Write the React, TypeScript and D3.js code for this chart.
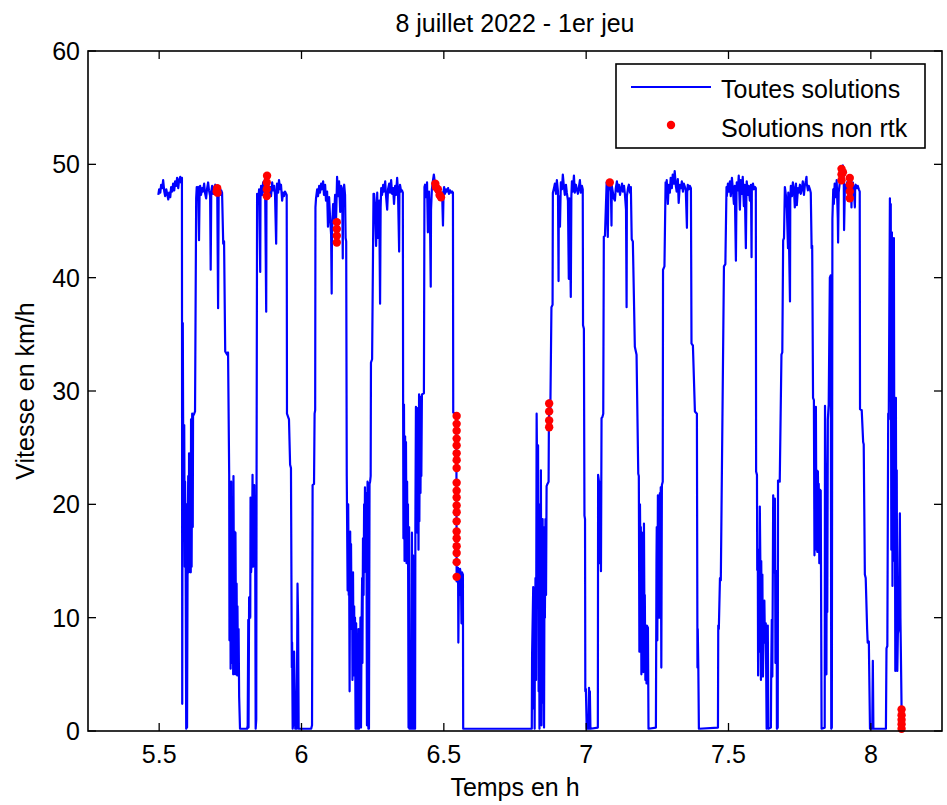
import { useMemo } from "react";
import * as d3 from "d3";

type Pt = [number, number];

const W = 947;
const H = 805;
const margin = { top: 51, right: 5, bottom: 74, left: 88 };
const FONT = "'Liberation Sans', Arial, Helvetica, sans-serif";

const titleText = "8 juillet 2022 - 1er jeu";
const xLabel = "Temps en h";
const yLabel = "Vitesse en km/h";
const legendLabels = ["Toutes solutions", "Solutions non rtk"];
const xTicks = [5.5, 6, 6.5, 7, 7.5, 8];
const yTicks = [0, 10, 20, 30, 40, 50, 60];

// speed (km/h) vs time (h), one array per lap
const lap1: Pt[] = [
  [5.497, 47.3], [5.5, 47.8], [5.504, 47.5], [5.507, 48.2], [5.511, 47.9], [5.514, 48.6], [5.518, 47.6],
  [5.521, 47.2], [5.525, 47.8], [5.528, 47.4], [5.532, 46.9], [5.535, 47.5], [5.539, 47.1], [5.542, 48.0],
  [5.546, 47.6], [5.549, 48.3], [5.553, 47.7], [5.556, 48.5], [5.56, 48.1], [5.563, 48.8], [5.567, 47.9],
  [5.57, 48.6], [5.574, 48.9], [5.577, 48.4], [5.58, 48.8], [5.581, 2.4], [5.583, 36], [5.584, 28.5],
  [5.586, 18], [5.588, 27], [5.59, 14.5], [5.591, 22], [5.593, 15], [5.595, 0.2], [5.597, 20], [5.598, 0.3],
  [5.6, 16], [5.602, 22.5], [5.604, 14], [5.605, 24.5], [5.607, 15.5], [5.609, 20], [5.611, 14], [5.612, 27.5],
  [5.614, 14.5], [5.616, 28], [5.618, 18], [5.619, 27.8], [5.623, 28], [5.626, 28.2], [5.63, 47],
];

const lap2: Pt[] = [
  [5.632, 48], [5.633, 47.8], [5.637, 48], [5.64, 43.3], [5.642, 47.5], [5.644, 48.1], [5.647, 47.3],
  [5.651, 47.9], [5.654, 47.6], [5.658, 48.3], [5.661, 47.5], [5.665, 47.0], [5.668, 47.8], [5.672, 48.4],
  [5.675, 47.7], [5.679, 47.2], [5.681, 40.7], [5.683, 47.6], [5.686, 48.1], [5.69, 47.4], [5.693, 47.9],
  [5.697, 48.2], [5.7, 47.6], [5.704, 47.8], [5.707, 37.3], [5.709, 47.5], [5.711, 47.8], [5.714, 47.3],
  [5.718, 47.7], [5.721, 47.5], [5.725, 43], [5.728, 43.2], [5.732, 33.5], [5.739, 33.2], [5.742, 33.4],
  [5.746, 22.5], [5.747, 8], [5.749, 21], [5.751, 5.5], [5.753, 22], [5.754, 6], [5.756, 18], [5.758, 17],
  [5.76, 5], [5.761, 22.5], [5.763, 10], [5.765, 17.6], [5.767, 5], [5.768, 17.5], [5.77, 8], [5.772, 13],
  [5.774, 4.9], [5.775, 11], [5.777, 5], [5.779, 9], [5.781, 3], [5.784, 0.2], [5.798, 0.2], [5.809, 0.2],
  [5.811, 0.5], [5.813, 9.8], [5.814, 0.3], [5.816, 11.8], [5.82, 10], [5.821, 20.6], [5.823, 14],
  [5.826, 16], [5.828, 22.6], [5.83, 14.5], [5.834, 21.7], [5.835, 18], [5.837, 19.5], [5.839, 0.2],
  [5.841, 1], [5.842, 20], [5.844, 47.4],
];

const lap3: Pt[] = [
  [5.848, 46.5], [5.851, 47.8], [5.855, 40.5], [5.856, 47], [5.858, 48.1], [5.862, 47.3], [5.865, 48.4],
  [5.869, 47.6], [5.872, 48.8], [5.876, 37], [5.877, 47.5], [5.879, 48.9], [5.883, 48.2], [5.886, 47.4],
  [5.89, 48], [5.893, 47.2], [5.897, 48.4], [5.9, 47.7], [5.904, 48.1], [5.907, 47.3], [5.911, 43],
  [5.913, 47.6], [5.914, 48.3], [5.918, 47.5], [5.921, 48.6], [5.925, 47.8], [5.928, 48.2], [5.932, 46.8],
  [5.935, 47.5], [5.939, 47.2], [5.942, 47.6], [5.946, 47.4], [5.948, 47.3], [5.949, 28], [5.956, 27.5],
  [5.96, 23.5], [5.963, 23.2], [5.966, 5.6], [5.967, 7.8], [5.969, 0.2], [5.97, 0.4], [5.974, 7],
  [5.978, 0.2], [5.981, 1], [5.983, 0.2], [5.985, 8], [5.986, 13], [5.988, 10], [5.99, 0.2], [6.013, 0.2],
  [6.034, 0.2], [6.037, 0.5], [6.039, 21.7], [6.044, 21.8], [6.046, 28], [6.048, 28.3], [6.049, 46.2],
];

const lap4: Pt[] = [
  [6.051, 47], [6.055, 47.8], [6.058, 47.2], [6.062, 48.1], [6.065, 47.5], [6.069, 48.3], [6.072, 47.8],
  [6.076, 48.5], [6.079, 47.3], [6.083, 48.2], [6.086, 46.8], [6.09, 47.6], [6.093, 44.5], [6.097, 47.1],
  [6.1, 45.5], [6.104, 43.8], [6.106, 38.6], [6.107, 44], [6.111, 46.5], [6.114, 45.2], [6.118, 47.3],
  [6.121, 44.6], [6.125, 48.9], [6.128, 47.2], [6.132, 48.5], [6.136, 45.8], [6.139, 48.1], [6.143, 47.5],
  [6.145, 41.7], [6.146, 47.6], [6.15, 48.2], [6.153, 47.3], [6.155, 43.5], [6.157, 43.2], [6.159, 22.5],
  [6.162, 12.4], [6.164, 20], [6.166, 12], [6.167, 17.2], [6.169, 3.5], [6.171, 17.6], [6.172, 12],
  [6.174, 16.5], [6.176, 9], [6.178, 12.5], [6.179, 4.5], [6.181, 14], [6.183, 4.9], [6.185, 11],
  [6.186, 7.5], [6.188, 10], [6.19, 0.2], [6.192, 9.5], [6.193, 0.2], [6.195, 7], [6.197, 0.2], [6.199, 5.5],
  [6.2, 9], [6.202, 0.2], [6.204, 8.5], [6.206, 1], [6.207, 10], [6.209, 0.3], [6.211, 9], [6.213, 13.5],
  [6.214, 6], [6.216, 17], [6.218, 12], [6.22, 20], [6.221, 14], [6.223, 21.5], [6.225, 15], [6.227, 21],
  [6.228, 19.5], [6.23, 0.5], [6.232, 22], [6.234, 21.6], [6.235, 0.2], [6.237, 0.2], [6.239, 21.8],
  [6.241, 22], [6.243, 22.5], [6.244, 32.5], [6.248, 32.8], [6.253, 47.4],
];

const lap5: Pt[] = [
  [6.255, 47.4], [6.258, 46.5], [6.262, 42.8], [6.266, 47.5], [6.269, 43.5], [6.273, 46.8], [6.276, 37.7],
  [6.278, 46.2], [6.28, 47.9], [6.283, 47.3], [6.287, 48.2], [6.29, 47.6], [6.294, 48.5], [6.297, 47.2],
  [6.301, 46], [6.304, 47.8], [6.308, 48.3], [6.311, 47.5], [6.315, 48.6], [6.318, 47.4], [6.322, 47.9],
  [6.325, 46.5], [6.329, 48.1], [6.332, 47.3], [6.336, 48.8], [6.339, 47.6], [6.343, 42.3], [6.344, 47.4],
  [6.346, 48.2], [6.35, 47.6], [6.353, 47.7], [6.356, 47.5], [6.357, 29.2], [6.358, 17], [6.36, 28.8],
  [6.362, 15], [6.364, 26], [6.365, 17.6], [6.367, 25.5], [6.369, 14.8], [6.371, 22], [6.372, 15.5],
  [6.374, 20], [6.376, 0.3], [6.378, 18], [6.379, 0.2], [6.385, 0.2], [6.388, 17.5], [6.39, 0.2],
  [6.392, 15.5], [6.393, 0.2], [6.399, 0.2], [6.4, 18], [6.402, 28.6], [6.404, 19], [6.406, 28.5],
  [6.407, 17.5], [6.409, 27], [6.411, 16], [6.413, 29.7], [6.414, 18.5], [6.416, 29.2], [6.418, 21],
  [6.42, 29.5], [6.421, 22.5], [6.423, 29.7], [6.43, 29.8], [6.432, 48],
];

const lap6: Pt[] = [
  [6.434, 48.2], [6.437, 47.1], [6.441, 48.4], [6.444, 44], [6.448, 47.6], [6.452, 43.8], [6.454, 39.2],
  [6.455, 46], [6.458, 47.8], [6.462, 48.6], [6.465, 49.1], [6.469, 48.3], [6.472, 47.6], [6.476, 48.4],
  [6.479, 47.2], [6.483, 47.9], [6.487, 47.3], [6.49, 46.9], [6.494, 47.5], [6.497, 44.6], [6.499, 47.6],
  [6.501, 48], [6.504, 47.4], [6.508, 47.8], [6.511, 47.6], [6.515, 47.9], [6.518, 47.4], [6.522, 47.7],
  [6.525, 47.5], [6.529, 47.6], [6.532, 47.5], [6.533, 28.1], [6.539, 28], [6.544, 27.8], [6.545, 13.2],
  [6.55, 14.4], [6.551, 7.8], [6.553, 13.5], [6.555, 12], [6.557, 14.3], [6.56, 13.8], [6.562, 9.5],
  [6.564, 14], [6.567, 13.8], [6.568, 0.2], [6.627, 0.2], [6.697, 0.2], [6.768, 0.2], [6.809, 0.2],
];

const lap7: Pt[] = [
  [6.81, 6.7], [6.814, 12.7], [6.815, 2], [6.817, 12], [6.819, 0.2], [6.82, 9], [6.822, 13.5], [6.824, 4.5],
  [6.826, 28], [6.827, 25], [6.829, 11], [6.831, 25.2], [6.833, 3.5], [6.834, 20], [6.836, 0.2],
  [6.838, 18.5], [6.84, 7], [6.841, 23], [6.843, 0.5], [6.845, 12], [6.847, 18.7], [6.848, 2.5], [6.85, 18],
  [6.852, 0.3], [6.854, 17.5], [6.855, 10], [6.857, 18.7], [6.859, 12], [6.861, 21.6], [6.864, 21.8],
  [6.868, 22], [6.869, 26.8], [6.871, 29.2], [6.874, 28], [6.878, 37.4], [6.882, 37.6], [6.883, 47.5],
  [6.887, 47.9], [6.89, 48.3], [6.894, 47.4], [6.897, 48.6], [6.901, 47.6], [6.903, 39.7], [6.904, 47.2],
  [6.908, 44.5], [6.911, 48.4], [6.915, 47.8], [6.918, 49.1], [6.922, 48], [6.925, 47.3], [6.929, 48.2],
  [6.932, 47.5], [6.936, 46.8], [6.939, 39.9], [6.941, 47], [6.943, 44], [6.946, 38.3], [6.948, 47.2],
  [6.95, 48.5], [6.953, 47.6], [6.957, 49], [6.96, 47.5], [6.964, 48.2], [6.967, 47.8], [6.971, 47.4],
  [6.974, 47.9], [6.978, 48.6], [6.981, 47.5], [6.985, 48.1], [6.988, 47.8], [6.989, 35.8], [6.992, 35.5],
  [6.994, 19], [6.996, 18.7], [6.997, 3.5], [6.999, 3.7], [7.002, 0.2], [7.008, 0.2], [7.01, 3.8],
  [7.011, 0.2], [7.013, 3.5], [7.015, 0.2], [7.041, 0.3], [7.042, 22.6], [7.045, 22], [7.046, 14.8],
  [7.048, 15], [7.05, 22], [7.052, 14.1], [7.054, 27.6], [7.057, 27.7], [7.06, 28], [7.062, 43.6],
  [7.066, 43.7], [7.072, 48.4],
];

const lap8: Pt[] = [
  [7.073, 47.4], [7.076, 43.6], [7.078, 47.5], [7.08, 48.6], [7.083, 48.4], [7.087, 47.6], [7.089, 44.6],
  [7.09, 48.1], [7.094, 47.5], [7.097, 47], [7.101, 46.8], [7.104, 47.9], [7.108, 48.5], [7.111, 47.6],
  [7.115, 48.2], [7.119, 47.3], [7.122, 47.8], [7.126, 48.3], [7.129, 47.6], [7.133, 48.1], [7.136, 47.4],
  [7.14, 46], [7.142, 37.4], [7.143, 47.2], [7.147, 47.9], [7.15, 48.2], [7.154, 47.5], [7.157, 48],
  [7.16, 43.4], [7.164, 43.2], [7.171, 33.9], [7.177, 33.2], [7.183, 22.7], [7.185, 22.5], [7.187, 7],
  [7.189, 20], [7.191, 14.1], [7.192, 18], [7.194, 5], [7.196, 17.5], [7.198, 6.5], [7.199, 14],
  [7.201, 5.2], [7.203, 18.3], [7.205, 8], [7.206, 12], [7.208, 4.5], [7.21, 9], [7.212, 4.2], [7.213, 9.3],
  [7.217, 9.1], [7.219, 0.2], [7.245, 0.3], [7.247, 15], [7.248, 18], [7.25, 8], [7.252, 20.8], [7.254, 12],
  [7.255, 18.5], [7.257, 10], [7.259, 21], [7.261, 13], [7.262, 21.5], [7.264, 5.6], [7.266, 21.7],
  [7.269, 22], [7.27, 40.7], [7.275, 41], [7.279, 48.4],
];

const lap9: Pt[] = [
  [7.28, 47.3], [7.283, 48.6], [7.287, 46.5], [7.29, 48.2], [7.294, 47.5], [7.297, 48.8], [7.301, 47.9],
  [7.304, 49.1], [7.308, 48.3], [7.311, 49.4], [7.315, 48.1], [7.318, 47.6], [7.322, 48.7], [7.325, 46.6],
  [7.329, 48.2], [7.333, 47.9], [7.336, 48.5], [7.34, 47.6], [7.343, 48.3], [7.347, 48], [7.35, 47.7],
  [7.354, 44.4], [7.355, 47.5], [7.357, 48.2], [7.361, 47.8], [7.364, 48.1], [7.368, 47.9], [7.37, 34.2],
  [7.375, 34], [7.382, 28.2], [7.389, 28], [7.391, 5.6], [7.392, 9], [7.394, 5.5], [7.396, 0.2],
  [7.463, 0.3], [7.464, 9.3], [7.466, 9], [7.47, 13.5], [7.473, 13.3], [7.479, 28.4], [7.484, 41],
  [7.489, 41.2], [7.493, 48],
];

const lap10: Pt[] = [
  [7.494, 47.2], [7.498, 48.3], [7.501, 47.6], [7.505, 48.5], [7.508, 47.2], [7.512, 48.8], [7.515, 47.9],
  [7.519, 46.5], [7.522, 48.1], [7.526, 41.5], [7.528, 47.3], [7.529, 48.4], [7.533, 47.7], [7.536, 49],
  [7.54, 46], [7.543, 48.6], [7.547, 47.4], [7.55, 48.9], [7.554, 46.3], [7.557, 48.2], [7.561, 42.6],
  [7.563, 47.6], [7.564, 48.5], [7.568, 47.3], [7.571, 48.1], [7.575, 46.8], [7.579, 48.2], [7.581, 41.8],
  [7.582, 47.9], [7.586, 48.3], [7.589, 47.8], [7.593, 48], [7.596, 47.9], [7.597, 22.9], [7.6, 22.6],
  [7.601, 14.2], [7.603, 15], [7.604, 4.9], [7.607, 16], [7.608, 7], [7.61, 19.8], [7.612, 14.5],
  [7.614, 4.5], [7.615, 15], [7.617, 9], [7.619, 13.8], [7.621, 4.8], [7.624, 9.8], [7.626, 11.5],
  [7.628, 7.8], [7.631, 9.5], [7.634, 0.2], [7.638, 9.3], [7.64, 0.2], [7.649, 0.3], [7.65, 5], [7.652, 9.8],
  [7.654, 4.8], [7.657, 20.8], [7.659, 14], [7.663, 20.5], [7.665, 6], [7.666, 14], [7.669, 14.1],
  [7.67, 0.2], [7.673, 0.3], [7.674, 22.1], [7.68, 22], [7.686, 33.2], [7.689, 33.4], [7.692, 43.3],
  [7.695, 43.5], [7.698, 48],
];

const lap11: Pt[] = [
  [7.702, 47.2], [7.705, 46.1], [7.709, 42.6], [7.71, 47.5], [7.712, 44], [7.716, 37.9], [7.717, 46.8],
  [7.719, 48.1], [7.723, 47.2], [7.726, 48.4], [7.73, 47.8], [7.733, 46.2], [7.737, 48.3], [7.74, 46.4],
  [7.744, 47.9], [7.747, 47.5], [7.751, 48.2], [7.754, 47.4], [7.758, 47.9], [7.761, 48.5], [7.765, 47.3],
  [7.768, 48.1], [7.772, 48.6], [7.774, 48.9], [7.775, 48.3], [7.779, 47.7], [7.782, 48.1], [7.786, 47.8],
  [7.789, 47.5], [7.792, 42.6], [7.794, 42.8], [7.797, 29.4], [7.8, 29.2], [7.802, 15.5], [7.803, 22.5],
  [7.805, 17], [7.807, 28.6], [7.809, 16], [7.81, 23], [7.812, 15.8], [7.814, 22.9], [7.816, 18],
  [7.817, 21.8], [7.819, 14.8], [7.821, 21.3], [7.824, 21.2], [7.827, 0.2], [7.838, 0.3], [7.839, 28.7],
  [7.842, 20], [7.844, 5], [7.845, 18], [7.847, 10.5], [7.849, 27.5], [7.852, 28.8], [7.856, 40],
  [7.859, 40.2], [7.861, 0.2], [7.863, 0.3], [7.865, 45.2], [7.868, 47.8],
];

const lap12: Pt[] = [
  [7.87, 46.5], [7.873, 48.3], [7.877, 47.1], [7.88, 48.6], [7.884, 45.2], [7.885, 43.1], [7.887, 47.5],
  [7.891, 48.4], [7.895, 49.3], [7.898, 49.6], [7.902, 49.9], [7.905, 48.5], [7.906, 44.2], [7.909, 48.2],
  [7.912, 47.6], [7.916, 48.4], [7.919, 47.9], [7.923, 48.8], [7.926, 48.3], [7.93, 48.6], [7.932, 46.2],
  [7.933, 47.9], [7.937, 48.4], [7.94, 47.7], [7.944, 46.2], [7.945, 48], [7.947, 48.2], [7.951, 47.9],
  [7.954, 48.1], [7.958, 47.8], [7.961, 47.6], [7.962, 28.4], [7.968, 28.3], [7.973, 25.5], [7.975, 25.3],
  [7.979, 13.8], [7.982, 13.5], [7.987, 9], [7.989, 7.8], [7.993, 7.9], [7.997, 0.2], [8.005, 0.2],
  [8.007, 6.2], [8.009, 0.2], [8.053, 0.2], [8.055, 7.3], [8.058, 7.5], [8.061, 28], [8.063, 27.5],
  [8.067, 47], [8.069, 30], [8.07, 46.5], [8.072, 16], [8.074, 44], [8.076, 12.8], [8.077, 35], [8.079, 20],
  [8.081, 43.5], [8.083, 15], [8.084, 29.4], [8.086, 5.3], [8.088, 29.4], [8.09, 8.6], [8.091, 23],
  [8.093, 5.3], [8.095, 8.6], [8.098, 9], [8.102, 19.2], [8.104, 10], [8.105, 8], [8.108, 2], [8.109, 0.3],
];

// solutions without RTK fix
const nonRtk: Pt[] = [
  [5.702, 47.6], [5.704, 47.9], [5.705, 47.5],
  [5.878, 47.2], [5.878, 47.8], [5.878, 48.4], [5.879, 49.0],
  [6.124, 43.1], [6.124, 43.7], [6.124, 44.3], [6.124, 44.9],
  [6.47, 48.3], [6.472, 48.0], [6.479, 47.8], [6.485, 47.3], [6.49, 47.1],
  [6.545, 27.8], [6.545, 27.1], [6.545, 26.5], [6.545, 25.8], [6.545, 25.2], [6.545, 24.5], [6.545, 23.9],
  [6.545, 23.2], [6.545, 21.9], [6.545, 21.2], [6.545, 20.6], [6.545, 19.9], [6.545, 19.3], [6.545, 18.5],
  [6.545, 17.6], [6.545, 17.0], [6.545, 16.3], [6.545, 15.7], [6.545, 14.9], [6.545, 13.6],
  [6.87, 26.8], [6.87, 27.4], [6.87, 28.2], [6.87, 28.9],
  [7.083, 48.4],
  [7.897, 48.6], [7.897, 49.1], [7.897, 49.6], [7.902, 49.3],
  [7.926, 47.0], [7.926, 47.6], [7.926, 48.2], [7.926, 48.8],
  [8.108, 0.2], [8.108, 0.6], [8.108, 1.0], [8.108, 1.4], [8.108, 1.9],
];

const allSolutions: Pt[] = [
  ...lap1, ...lap2, ...lap3, ...lap4, ...lap5, ...lap6,
  ...lap7, ...lap8, ...lap9, ...lap10, ...lap11, ...lap12,
];

export default function App() {
  const x0 = margin.left;
  const x1 = W - margin.right;
  const y0 = H - margin.bottom;
  const y1 = margin.top;

  const xScale = useMemo(() => d3.scaleLinear().domain([5.25, 8.25]).range([x0, x1]), []);
  const yScale = useMemo(() => d3.scaleLinear().domain([0, 60]).range([y0, y1]), []);

  const path = d3
    .line<Pt>()
    .x((d) => xScale(d[0]))
    .y((d) => yScale(d[1]))(allSolutions);

  const tickLen = 8;
  const legend = { x: 616, y: 64, w: 309, h: 84 };

  return (
    <svg
      width={W}
      height={H}
      style={{ position: "absolute", left: 0, top: 0, background: "#fff" }}
      fontFamily={FONT}
    >
      <rect x={0} y={0} width={W} height={H} fill="#fff" />

      <path d={path ?? ""} fill="none" stroke="#0000ff" strokeWidth={2.2} strokeLinejoin="round" />
      {nonRtk.map((d, i) => (
        <circle key={i} cx={xScale(d[0])} cy={yScale(d[1])} r={4.2} fill="#ff0000" />
      ))}

      {/* box + inward ticks on all four sides */}
      <rect x={x0} y={y1} width={x1 - x0} height={y0 - y1} fill="none" stroke="#000" strokeWidth={1.6} />
      {xTicks.map((t) => (
        <g key={"x" + t}>
          <line x1={xScale(t)} x2={xScale(t)} y1={y0} y2={y0 - tickLen} stroke="#000" strokeWidth={1.3} />
          <line x1={xScale(t)} x2={xScale(t)} y1={y1} y2={y1 + tickLen} stroke="#000" strokeWidth={1.3} />
          <text x={xScale(t)} y={763} textAnchor="middle" fontSize={25} fill="#000">
            {String(t)}
          </text>
        </g>
      ))}
      {yTicks.map((t) => (
        <g key={"y" + t}>
          <line x1={x0} x2={x0 + tickLen} y1={yScale(t)} y2={yScale(t)} stroke="#000" strokeWidth={1.3} />
          <line x1={x1} x2={x1 - tickLen} y1={yScale(t)} y2={yScale(t)} stroke="#000" strokeWidth={1.3} />
          <text x={80} y={yScale(t) + 9} textAnchor="end" fontSize={25} fill="#000">
            {String(t)}
          </text>
        </g>
      ))}

      <text x={(x0 + x1) / 2} y={32} textAnchor="middle" fontSize={25} fill="#000">
        {titleText}
      </text>
      <text x={(x0 + x1) / 2} y={796} textAnchor="middle" fontSize={25} fill="#000">
        {xLabel}
      </text>
      <text
        transform={`translate(34,${(y0 + y1) / 2}) rotate(-90)`}
        textAnchor="middle"
        fontSize={25}
        fill="#000"
      >
        {yLabel}
      </text>

      {/* legend */}
      <rect x={legend.x} y={legend.y} width={legend.w} height={legend.h} fill="#fff" stroke="#000" strokeWidth={1.6} />
      <line x1={631} x2={711} y1={87} y2={87} stroke="#0000ff" strokeWidth={2.2} />
      <text x={721} y={98} fontSize={25} fill="#000">
        {legendLabels[0]}
      </text>
      <circle cx={671} cy={125} r={4.2} fill="#ff0000" />
      <text x={721} y={137} fontSize={25} fill="#000">
        {legendLabels[1]}
      </text>
    </svg>
  );
}
